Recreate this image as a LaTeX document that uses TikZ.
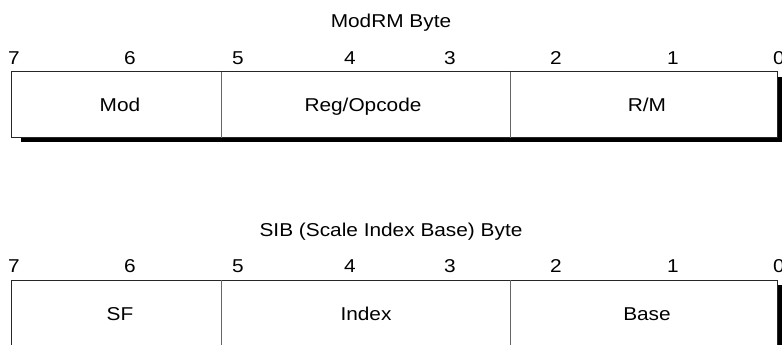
\documentclass[tikz,border=0pt]{standalone}
\usepackage{fontspec}
\setmainfont{Liberation Sans}[FakeStretch=1.12]
\begin{document}
\begin{tikzpicture}[x=1pt,y=-1pt,
  lbl/.style={font=\fontsize{18.6}{20}\selectfont, inner sep=0pt, anchor=base},
  shadowfill/.style={fill=black},
  boxframe/.style={fill=white, draw=black!85, line width=1pt},
  divider/.style={draw=black!60, line width=1pt}]
\useasboundingbox (0,0) rectangle (782,345);
\clip (0,0) rectangle (782,345);
% ---------- ModRM byte ----------
\node[lbl] (t1) at (391,27.7) {ModRM Byte};
\foreach \b/\x in {7/14,6/130,5/238,4/350,3/450,2/556,1/673,0/779}
  \node[lbl] (a\b) at (\x,64.3) {\b};
\fill[shadowfill] (20.7,76.7) rectangle (781.5,141.5);
\draw[boxframe] (11.7,71.7) rectangle (777.3,137.7);
\draw[divider] (221,71.7) -- (221,137.7);
\draw[divider] (510.7,71.7) -- (510.7,137.7);
\node[lbl] (mod) at (120,111.7) {Mod};
\node[lbl] (reg) at (363,111.7) {Reg/Opcode};
\node[lbl] (rm) at (647,111.7) {R/M};
% ---------- SIB byte ----------
\node[lbl] (t2) at (391,236.5) {SIB (Scale Index Base) Byte};
\foreach \b/\x in {7/14,6/130,5/238,4/350,3/450,2/556,1/673,0/779}
  \node[lbl] (b\b) at (\x,272.6) {\b};
\fill[shadowfill] (20.7,285) rectangle (781.5,349.8);
\draw[boxframe] (11.7,280) rectangle (777.3,346);
\draw[divider] (221,280) -- (221,346);
\draw[divider] (510.7,280) -- (510.7,346);
\node[lbl] (sf) at (120,320) {SF};
\node[lbl] (idx) at (366,320) {Index};
\node[lbl] (base) at (647,320) {Base};
\end{tikzpicture}
\end{document}
